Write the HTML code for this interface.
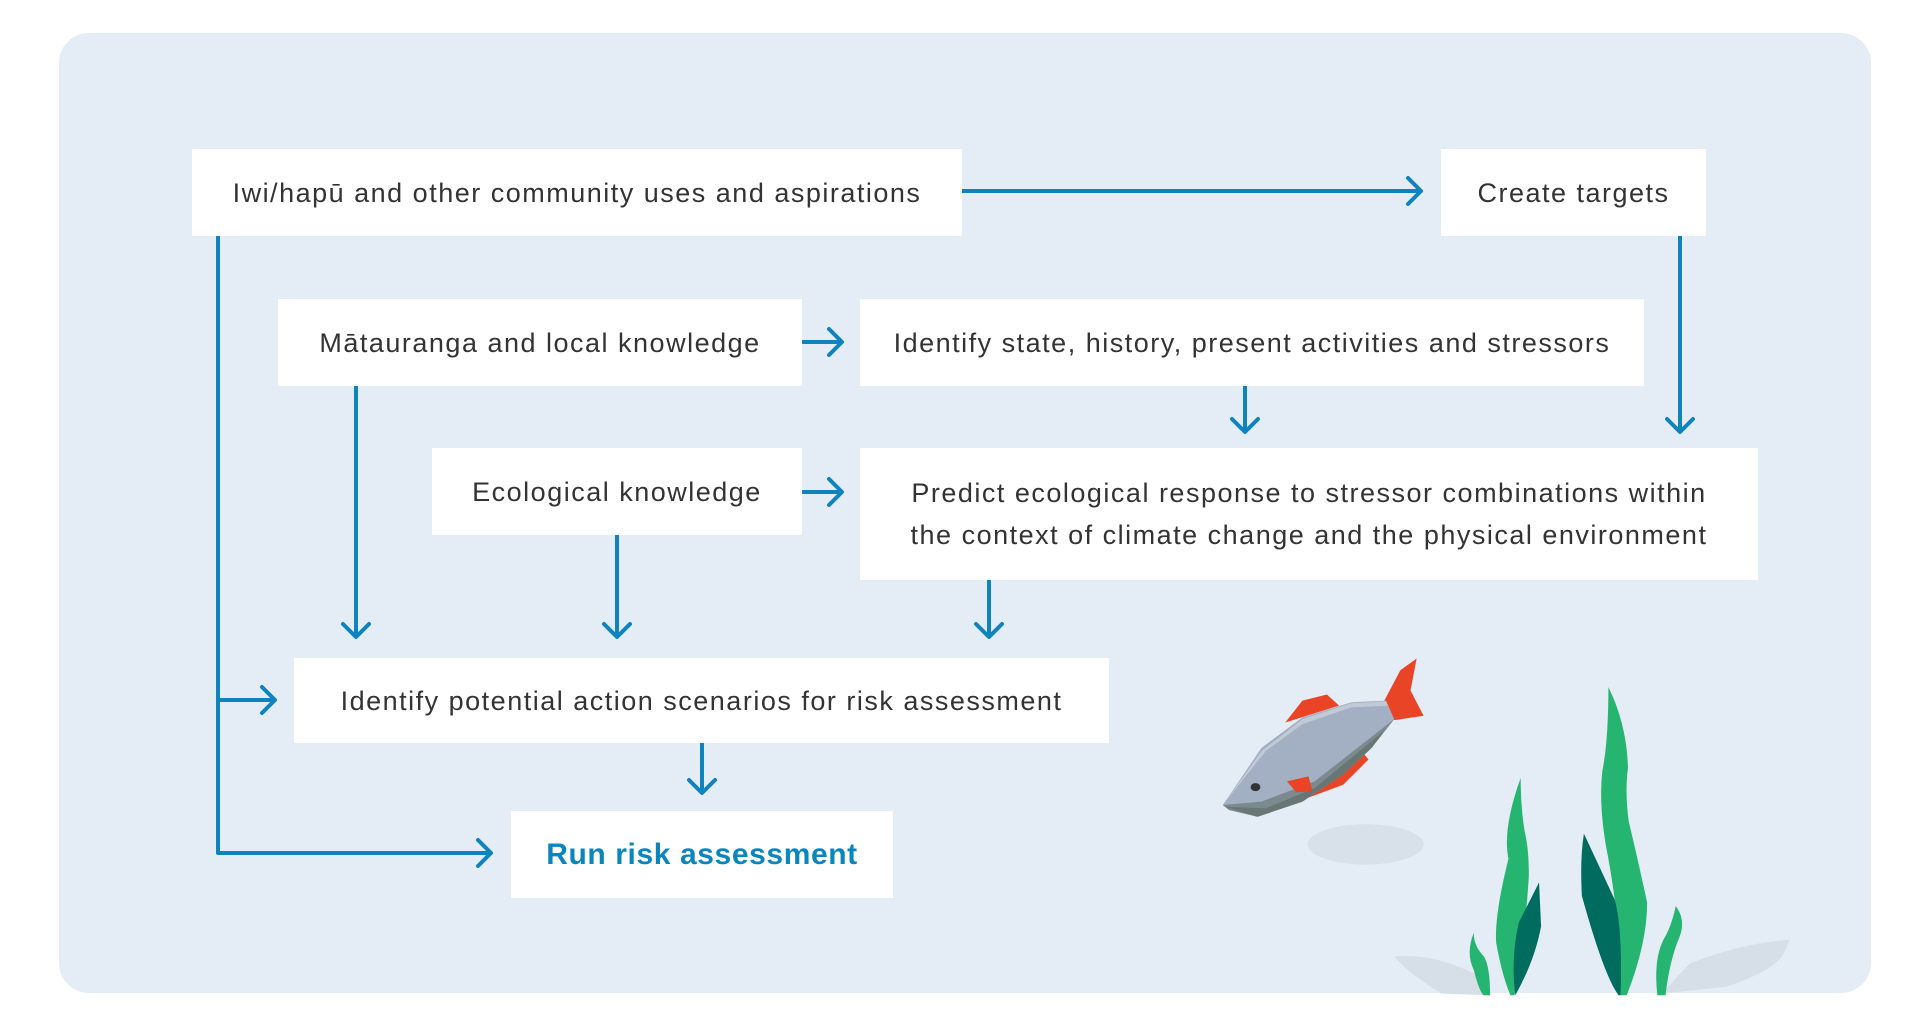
<!DOCTYPE html>
<html><head><meta charset="utf-8"><style>
html,body{margin:0;padding:0;background:#fff;width:1920px;height:1025px;overflow:hidden}
.box{position:absolute;background:#fff;display:flex;align-items:center;justify-content:center;text-align:center;font-family:"Liberation Sans",sans-serif;font-size:27px;color:#333;letter-spacing:1.5px;line-height:42px;white-space:nowrap}
</style></head><body>
<svg width="1920" height="1025" style="position:absolute;left:0;top:0">
<rect x="59" y="33" width="1812" height="960" rx="30" fill="#e4ecf5"/>
<g stroke="#0f83bd" stroke-width="4" fill="none" stroke-linecap="round" stroke-linejoin="round">
<path d="M962 191H1420M1408 178L1421 191L1408 204"/>
<path d="M218 236V853H490M478 840L491 853L478 866"/>
<path d="M218 700H274M262 687L275 700L262 713"/>
<path d="M803 342H841M829 329L842 342L829 355"/>
<path d="M803 492H841M829 479L842 492L829 505"/>
<path d="M356 386V636M343 624L356 637L369 624"/>
<path d="M617 535V636M604 624L617 637L630 624"/>
<path d="M989 580V636M976 624L989 637L1002 624"/>
<path d="M1245 386V431M1232 419L1245 432L1258 419"/>
<path d="M1680 236V431M1667 419L1680 432L1693 419"/>
<path d="M702 743V792M689 780L702 793L715 780"/>
</g>
<g transform="translate(1180,640) scale(0.408,0.3367)">
<ellipse cx="455" cy="607" rx="142" ry="60" fill="#d8e0e9"/>
<path d="M525 940Q620 930 720 990L760 1055L640 1050Q560 990 525 940Z" fill="#d6dee7"/>
<path d="M1495 890Q1380 900 1250 960L1180 1050L1340 1030Q1460 980 1480 930Z" fill="#d6dee7"/>
<path d="M258 245L300 180L360 162L390 195Z" fill="#ea4426"/>
<path d="M500 182L540 90L580 55L565 150L597 225L525 238Z" fill="#ea4426"/>
<path d="M300 475L400 430L462 355L445 330L350 420Z" fill="#ea4426"/>
<path d="M105 490L200 320L300 230L420 185L505 180L525 235L470 320L400 400L300 480L190 525L120 505Z" fill="#a3afc2"/>
<path d="M105 490L200 330L300 235L420 188L505 182L510 195L420 200L300 250L210 330Z" fill="#c0cad6"/>
<path d="M105 490L200 480L330 420L525 235L470 320L400 400L300 480L190 525L120 505Z" fill="#7b8a8e"/>
<path d="M110 495L210 500L330 440L500 270L470 320L400 400L300 480L190 525Z" fill="#687773"/>
<path d="M262 420L315 405L325 450L285 452Z" fill="#ea4426"/>
<circle cx="185" cy="437" r="12" fill="#333"/>
<path d="M835 410Q790 560 805 650Q770 820 775 900Q790 1000 810 1055L820 1055Q845 900 855 700Q855 620 845 570Q835 500 835 410Z" fill="#26b571"/>
<path d="M880 720L830 840Q810 950 822 1055Q870 950 885 850Z" fill="#006b5f"/>
<path d="M720 870Q700 930 720 980Q735 1050 745 1055L760 1055Q760 970 745 940Q720 910 720 870Z" fill="#26b571"/>
<path d="M1050 140Q1050 300 1035 390Q1025 500 1050 650Q1080 850 1080 1055L1095 1055Q1145 900 1145 780Q1120 640 1100 540Q1090 450 1098 380Q1095 250 1050 140Z" fill="#26b571"/>
<path d="M990 575Q980 650 985 760Q1040 1000 1075 1055L1080 1055Q1085 850 1065 770Z" fill="#006b5f"/>
<path d="M1215 790Q1205 850 1185 890Q1160 950 1170 1055L1190 1055Q1200 950 1225 880Q1240 830 1215 790Z" fill="#26b571"/>
</g>
</svg>
<div class="box" style="left:192px;top:149px;width:770px;height:87px">Iwi/hapū and other community uses and aspirations</div>
<div class="box" style="left:1441px;top:149px;width:265px;height:87px">Create targets</div>
<div class="box" style="left:278px;top:299px;width:524px;height:87px">Mātauranga and local knowledge</div>
<div class="box" style="left:860px;top:299px;width:784px;height:87px">Identify state, history, present activities and stressors</div>
<div class="box" style="left:432px;top:448px;width:370px;height:87px">Ecological knowledge</div>
<div class="box" style="left:860px;top:448px;width:898px;height:132px">Predict ecological response to stressor combinations within<br>the context of climate change and the physical environment</div>
<div class="box" style="left:294px;top:658px;width:815px;height:85px">Identify potential action scenarios for risk assessment</div>
<div class="box" style="left:511px;top:811px;width:382px;height:87px;color:#0a86bf;font-weight:bold;font-size:30px;letter-spacing:0.6px">Run risk assessment</div>
</body></html>
